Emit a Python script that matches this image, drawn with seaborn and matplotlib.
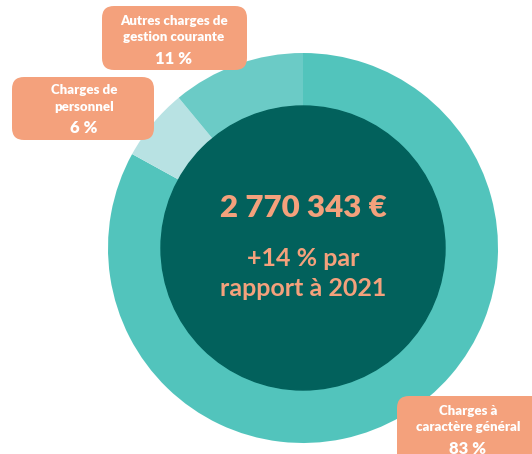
import numpy as np
import matplotlib.pyplot as plt
import seaborn as sns
from matplotlib.patches import FancyBboxPatch, Circle

# data
categories = ['Charges à\ncaractère général', 'Charges de\npersonnel', 'Autres charges de\ngestion courante']
shares = [83, 6, 11]
total_label = '2 770 343 €'
evolution_lines = ['+14 % par', 'rapport à 2021']

ring_colors = ['#52C4BC', '#B8E2E3', '#6BCBC6']
dark = '#02615C'
salmon = '#F4A17C'

sns.set_theme(style='white')
plt.rcParams['font.family'] = ['Lato', 'DejaVu Sans']

W, H = 532, 454
fig = plt.figure(figsize=(W / 100, H / 100), dpi=100)
ax = fig.add_axes([0, 0, 1, 1])

# donut (pixel coords, y flipped)
cx, cy = 303, H - 248
R, r_in = 195, 142
ax.pie(shares, colors=ring_colors, startangle=90, counterclock=False,
       center=(cx, cy), radius=R,
       wedgeprops=dict(width=R - r_in + 2, edgecolor='none', linewidth=0))
ax.add_patch(Circle((cx, cy), r_in, color=dark, zorder=3))

ax.text(cx, H - 208, total_label, ha='center', va='center', color=salmon,
        fontsize=22.5, fontweight='heavy', zorder=4)
for line, y in zip(evolution_lines, [259, 288]):
    ax.text(cx, H - y, line, ha='center', va='center', color=salmon,
            fontsize=18, fontweight='bold', zorder=4)

# label boxes: (x0, y0, x1, y1) in pixels, text center x, line ys
boxes = [
    ((397, 396, 545, 470), 468, (411, 427, 449)),
    ((12, 77, 154, 140), 84, (90, 107, 128)),
    ((102, 6, 247, 70), 174, (21, 37, 59)),
]
for cat, val, (box, tx, ys) in zip(categories, shares, boxes):
    x0, y0, x1, y1 = box
    ax.add_patch(FancyBboxPatch((x0, H - y1), x1 - x0, y1 - y0,
                                boxstyle='round,pad=0,rounding_size=12',
                                fc=salmon, ec='none', zorder=5))
    l1, l2 = cat.split('\n')
    for line, y in zip([l1, l2], ys[:2]):
        ax.text(tx, H - y, line, ha='center', va='center', color='white',
                fontsize=9.5, fontweight='heavy', zorder=6)
    ax.text(tx, H - ys[2], f'{val} %', ha='center', va='center', color='white',
            fontsize=12, fontweight='heavy', zorder=6)

ax.set_xlim(0, W)
ax.set_ylim(0, H)
ax.set_aspect('equal')
ax.set_axis_off()

fig.savefig('out.png', dpi=100, facecolor='white')
